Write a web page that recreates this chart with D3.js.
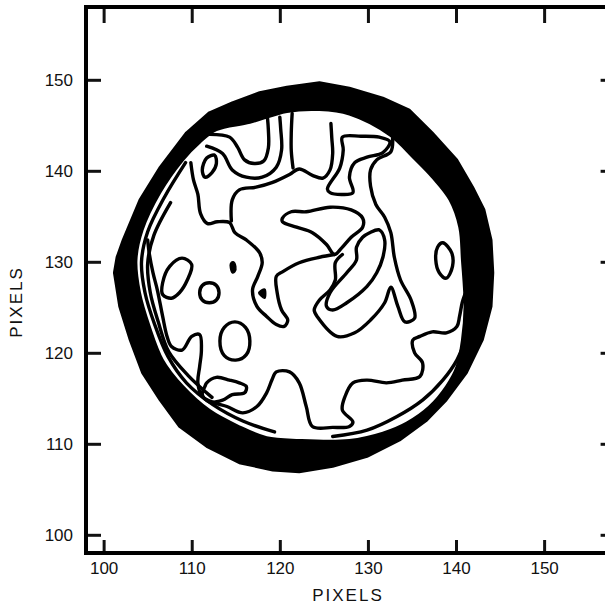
<!DOCTYPE html>
<html>
<head>
<meta charset="utf-8">
<script src="https://cdn.jsdelivr.net/npm/d3@7"></script>
<style>
  html, body { margin: 0; padding: 0; background: #fff; }
  svg { display: block; }
  .axis text { font-family: "Liberation Sans", Arial, sans-serif; font-size: 17px; fill: #111; }
  .axis line { stroke: #111; stroke-width: 3; }
  .title { font-family: "Liberation Sans", Arial, sans-serif; font-size: 17px; fill: #111; letter-spacing: 2px; }
</style>
</head>
<body>
<div id="chart"></div>
<script>
// ── data (pixel coordinates of the image) ─────────────────────────────────────
const xTicks = [100, 110, 120, 130, 140, 150];
const yTicks = [100, 110, 120, 130, 140, 150];
const xDomain = [98, 158];
const yDomain = [98, 158];

// thick band of closely spaced contours at the aperture edge
const ringOuter = [[124.5,149.7],[127.9,149.1],[131.7,148.0],[134.7,146.7],[137.3,144.2],[140.1,141.2],
  [141.9,138.2],[143.2,135.7],[144.0,132.4],[144.2,128.8],[144.0,125.1],[143.0,121.4],[141.2,117.8],
  [138.9,114.8],[136.7,112.6],[133.6,110.4],[129.9,108.6],[126.0,107.5],[122.2,106.9],[119.2,107.1],
  [115.4,107.9],[111.7,109.7],[108.6,111.9],[106.4,114.8],[104.4,117.8],[103.0,121.4],[101.8,125.1],
  [101.2,128.8],[101.5,130.5],[102.2,132.4],[104.1,136.8],[106.4,140.4],[109.4,144.2],[112.0,146.4],
  [114.6,147.5],[117.7,148.6],[120.8,149.2]];
const ringInner = [[124.5,146.7],[127.9,146.2],[132.5,143.9],[135.1,141.5],[137.3,139.3],[139.3,136.8],
  [140.4,133.8],[140.7,130.2],[141.0,125.1],[140.7,121.4],[140.1,118.5],[138.9,116.3],[137.0,114.1],
  [134.4,112.3],[131.7,111.2],[127.9,110.4],[122.2,110.4],[118.5,110.7],[115.4,111.9],[112.0,113.7],
  [109.0,116.3],[106.7,119.2],[105.2,122.9],[104.1,126.6],[103.7,130.2],[104.4,133.5],[106.4,137.6],
  [109.0,141.2],[110.9,143.1],[112.8,144.5],[116.6,145.3],[120.8,146.5]];

// thin contours hugging the band
const edgeLeftA = [[109.3,140.9],[106.9,137.1],[105.0,133.3],[104.3,130.0],[104.7,126.6],[105.8,123.1],
  [107.3,119.6],[109.4,116.7],[112.4,114.3],[115.8,112.5],[119.4,111.3]];
const edgeLeftB = [[107.6,136.5],[105.7,132.9],[105.0,129.8],[105.3,126.6],[106.2,123.4],
  [107.4,120.1],[109.6,117.5],[112.3,115.1]];
const edgeRight = [[141.2,121.8],[140.1,119.2],[138.5,117.0],[136.2,114.8],[133.3,113.0],[129.9,111.5],[126.0,110.8]];

// interior contours
const archInner = [[112.0,144.0],[114.3,143.7],[115.2,142.6],[116.0,141.2],[117.1,140.8],[118.2,141.1],
  [118.7,142.5],[118.7,144.5],[118.6,145.8]];
const archOuter = [[111.7,142.7],[113.5,141.9],[114.6,140.1],[116.2,139.3],[118.0,139.3],[119.6,140.4],
  [120.2,142.3],[120.1,144.6],[120.0,145.9]];
const blobUpper = [[111.7,141.4],[112.6,141.7],[112.8,140.8],[112.3,139.8],[111.5,139.3],[111.2,140.1]];
const longLine = [[126.2,130.8],[124.5,130.5],[122.2,129.9],[120.3,128.9],[119.6,128.4],[119.7,126.6],
  [120.2,124.7],[120.9,123.6],[120.5,122.9],[119.6,123.1],[118.5,124.0],[117.4,125.1],[116.9,126.9],
  [117.5,128.4],[118.0,129.9],[117.7,131.0],[116.2,132.4],[114.9,133.2],[114.3,134.3],[112.9,134.4],
  [111.8,134.2],[111.0,135.3],[110.7,137.4],[110.2,139.0],[109.9,140.9]];
const upperLine = [[114.5,134.5],[114.6,136.8],[115.4,137.9],[117.3,138.2],[119.1,138.7],[121.1,139.6],
  [122.2,140.2],[123.7,139.5],[124.9,139.2],[125.7,140.1],[126.0,141.9],[125.9,143.6],[125.8,145.2]];
const upperSpur = [[121.4,146.3],[121.3,144.2],[121.3,142.2],[121.5,140.3]];
const triLoop = [[127.1,143.7],[129.2,143.8],[131.3,143.7],[132.5,143.2],[131.7,142.0],[129.9,141.5],
  [128.5,140.9],[127.9,139.3],[128.3,137.6],[127.0,137.4],[125.7,137.6],[125.4,138.0],[126.8,140.3],[127.2,142.3]];
const tongue = [[120.3,134.8],[121.3,135.5],[123.0,135.5],[125.7,136.0],[128.1,135.7],[129.4,134.8],
  [129.4,133.8],[128.1,132.7],[127.0,131.5],[126.2,130.8],[125.3,131.9],[123.7,133.2],[121.9,133.8],[120.3,134.4]];
const loopInner = [[130.2,133.2],[131.3,133.5],[131.9,132.4],[131.7,130.5],[131.0,128.8],[129.9,127.3],
  [127.6,125.5],[126.0,124.7],[125.3,125.1],[125.7,126.6],[127.6,128.8],[128.7,130.2],[128.7,131.6],[129.4,132.7]];
const loopOuter = [[127.1,130.8],[126.3,129.9],[126.3,128.0],[125.7,126.9],[124.5,125.8],[123.9,124.7],
  [124.3,123.9],[126.5,121.8],[128.5,122.2],[130.3,123.6],[131.9,125.5],[132.6,127.2],[133.4,125.1],
  [134.2,123.4],[135.3,123.8],[134.9,125.8],[133.7,128.0],[133.0,130.5],[132.6,133.2],[131.9,134.9],
  [130.9,136.3],[130.3,138.3],[130.3,140.1],[131.0,141.2],[132.6,142.1],[132.8,143.6]];
const lowerLine = [[141.0,126.4],[140.7,125.5],[140.4,124.0],[140.1,122.9],[138.9,122.2],[137.3,122.3],
  [135.9,121.8],[135.1,121.4],[135.3,120.0],[136.2,118.9],[135.9,117.4],[133.9,117.0],[132.1,116.7],
  [129.9,117.0],[128.3,116.7],[127.4,115.2],[127.1,113.7],[128.3,112.4],[127.9,111.9],[126.0,111.8],
  [123.7,111.9],[123.0,114.1],[122.2,116.7],[121.1,117.9],[119.6,117.9],[119.1,117.0],[118.5,115.6],
  [117.4,114.1],[115.8,113.4],[114.0,114.1],[112.6,114.5],[111.2,115.2],[110.7,116.7],[110.9,118.5],
  [111.1,120.3],[110.9,122.0],[110.0,121.8],[108.9,120.3],[107.7,120.7],[107.2,121.8],[106.7,124.0],
  [106.1,126.9],[105.6,128.8],[105.2,130.8],[105.0,132.4]];
const blobLeft = [[107.5,129.5],[108.9,130.4],[110.0,129.7],[109.5,128.0],[108.6,126.6],[107.7,126.0],[106.7,126.4],[106.7,127.7]];
const ringSmall = [[112.0,127.7],[112.8,127.4],[113.1,126.6],[112.8,125.8],[112.0,125.5],[111.2,125.8],[110.9,126.6],[111.2,127.4]];
const ovalMid = [[114.9,123.4],[116.1,122.8],[116.6,121.3],[116.2,119.8],[115.0,119.2],[113.7,119.7],[113.2,121.3],[113.7,122.8]];
const blobLow = [[111.7,116.7],[112.8,117.3],[114.3,117.0],[115.4,116.7],[116.2,116.3],[116.0,115.6],[114.6,115.4],
  [113.5,114.8],[112.0,114.6],[111.2,115.4],[111.5,116.3]];
const ovalRight = [[138.5,132.1],[139.5,131.0],[139.6,129.5],[138.9,128.2],[138.1,128.8],[137.7,130.2],[137.9,131.6]];
const dotA = [[114.7,130.0],[115.0,129.5],[114.9,128.9],[114.6,128.8],[114.4,129.3],[114.4,129.8]];
const dotB = [[117.6,126.6],[118.3,127.0],[118.3,126.0]];

const openLines   = [edgeLeftA, edgeLeftB, edgeRight, archInner, archOuter, longLine, upperLine, upperSpur, loopOuter, lowerLine];
const closedLines = [blobUpper, triLoop, tongue, loopInner, blobLeft, ringSmall, ovalMid, blobLow, ovalRight];
const solidDots   = [dotA, dotB];

// ── layout ───────────────────────────────────────────────────────────────────
const W = 605, H = 605;
const x = d3.scaleLinear().domain(xDomain).range([86, 614.6]);
const y = d3.scaleLinear().domain(yDomain).range([553, 7]);

const svg = d3.select('#chart').append('svg').attr('width', W).attr('height', H);

// band
const closedPath = d3.line().x(d => x(d[0])).y(d => y(d[1])).curve(d3.curveCatmullRomClosed);
const polyPath = d3.line().x(d => x(d[0])).y(d => y(d[1])).curve(d3.curveLinearClosed);
svg.append('path')
  .attr('d', polyPath(ringOuter) + closedPath(ringInner))
  .attr('fill', '#000').attr('fill-rule', 'evenodd')
  .attr('stroke', '#000').attr('stroke-width', 2.5).attr('stroke-linejoin', 'round');

// contour lines
const openPath = d3.line().x(d => x(d[0])).y(d => y(d[1])).curve(d3.curveCatmullRom);
const lines = svg.append('g').attr('fill', 'none').attr('stroke', '#000')
  .attr('stroke-width', 3.4).attr('stroke-linejoin', 'round').attr('stroke-linecap', 'round');
lines.selectAll('.open').data(openLines).join('path').attr('class', 'open').attr('d', openPath);
lines.selectAll('.closed').data(closedLines).join('path').attr('class', 'closed').attr('d', closedPath);
svg.selectAll('.dot').data(solidDots).join('path').attr('class', 'dot')
  .attr('d', closedPath).attr('fill', '#000').attr('stroke', '#000').attr('stroke-width', 1.5);

// ── axes (ticks point into the frame) ────────────────────────────────────────
const noLabel = () => '';
svg.append('g').attr('class', 'axis').attr('transform', `translate(0,${y(yDomain[0])})`)
  .call(d3.axisBottom(x).tickValues(xTicks).tickSizeInner(-13).tickSizeOuter(0).tickPadding(9))
  .call(g => g.select('.domain').remove());
svg.append('g').attr('class', 'axis').attr('transform', `translate(0,${y(yDomain[1])})`)
  .call(d3.axisTop(x).tickValues(xTicks).tickSizeInner(-16).tickSizeOuter(0).tickFormat(noLabel))
  .call(g => g.select('.domain').remove());
svg.append('g').attr('class', 'axis').attr('transform', `translate(${x(xDomain[0])},0)`)
  .call(d3.axisLeft(y).tickValues(yTicks).tickSizeInner(-15).tickSizeOuter(0).tickPadding(13))
  .call(g => g.select('.domain').remove());
svg.append('g').attr('class', 'axis').attr('transform', `translate(${x(xDomain[1])},0)`)
  .call(d3.axisRight(y).tickValues(yTicks).tickSizeInner(-14).tickSizeOuter(0).tickFormat(noLabel))
  .call(g => g.select('.domain').remove());

// frame
svg.append('rect')
  .attr('x', x(xDomain[0])).attr('y', y(yDomain[1]))
  .attr('width', x(xDomain[1]) - x(xDomain[0])).attr('height', y(yDomain[0]) - y(yDomain[1]))
  .attr('fill', 'none').attr('stroke', '#000').attr('stroke-width', 4);

// axis titles
svg.append('text').attr('class', 'title')
  .attr('x', 348).attr('y', 601).attr('text-anchor', 'middle').text('PIXELS');
svg.append('text').attr('class', 'title')
  .attr('transform', 'translate(22,302) rotate(-90)').attr('text-anchor', 'middle').text('PIXELS');
</script>
</body>
</html>
